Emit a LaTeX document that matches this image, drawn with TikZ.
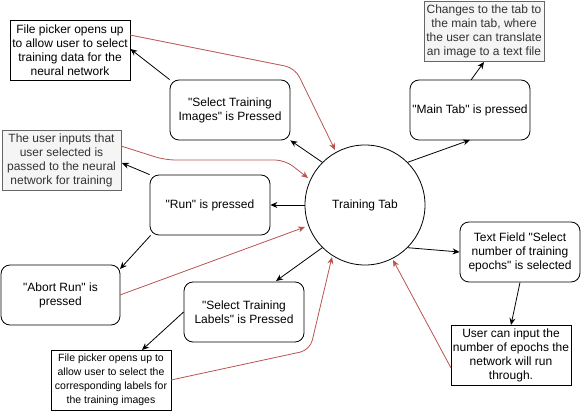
\documentclass[tikz,border=0pt]{standalone}
\usepackage{fontspec}
\setmainfont{Liberation Sans}
\usetikzlibrary{arrows.meta}
\definecolor{redline}{HTML}{B85450}
\definecolor{grayfill}{HTML}{F5F5F5}
\definecolor{grayline}{HTML}{666666}
\definecolor{graytext}{HTML}{333333}
\newcommand\qq{\textquotedbl}
\begin{document}
\begin{tikzpicture}[x=1pt,y=-1pt,
  every node/.style={font=\fontsize{12}{14}\selectfont, align=center, inner sep=0pt},
  rbox/.style={draw, rounded corners=9pt, line width=0.8pt, minimum width=120pt, minimum height=60pt, fill=white},
  wbox/.style={draw, line width=0.8pt, minimum width=120pt, minimum height=60pt, fill=white},
  gbox/.style={draw=grayline, fill=grayfill, text=graytext, line width=0.8pt, minimum width=120pt, minimum height=60pt},
  arr/.style={-{Stealth[length=7pt,width=6pt]}, line width=0.8pt},
  rarr/.style={-{Stealth[length=7pt,width=6pt]}, draw=redline, line width=0.8pt, rounded corners=10pt}
]
\useasboundingbox (0,0) rectangle (581,411);
\node[draw, circle, minimum size=120pt, line width=0.8pt] (tt) at (365,205) {Training Tab};
\node[wbox] (fp1) at (70,50) {File picker opens up\\to allow user to select\\training data for the\\neural network};
\node[rbox] (sti) at (230,110) {\qq Select Training\\Images\qq{} is Pressed};
\node[gbox, minimum width=119pt] (ui) at (61.5,160) {The user inputs that\\user selected is\\passed to the neural\\network for training};
\node[rbox] (run) at (210,205) {\qq Run\qq{} is pressed};
\node[rbox, minimum width=119pt] (abort) at (60.5,295) {\qq Abort Run\qq{} is\\pressed};
\node[rbox] (stl) at (244,312) {\qq Select Training\\Labels\qq{} is Pressed};
\node[wbox, font=\fontsize{10.5}{14}\selectfont] (fp2) at (111,380) {File picker opens up to\\allow user to select the\\corresponding labels for\\the training images};
\node[rbox] (mt) at (470,110) {\qq Main Tab\qq{} is pressed};
\node[gbox] (mtg) at (484,31) {Changes to the tab to\\the main tab, where\\the user can translate\\an image to a text file};
\node[rbox] (tf) at (520,252) {Text Field \qq Select\\number of training\\epochs\qq{} is selected};
\node[wbox] (uc) at (511,355) {User can input the\\number of epochs the\\network will run\\through.};
% black arrows
\draw[arr] (tt.135) -- (sti.south east);
\draw[arr] (sti.north west) -- ([yshift=1pt]fp1.east);
\draw[arr] (tt.west) -- (run.east);
\draw[arr] ([xshift=1pt]run.south west) -- (120,269);
\draw[arr] (run.north west) -- (122,163);
\draw[arr] (tt.225) -- (276,281);
\draw[arr] (stl.west) -- (142,350);
\draw[arr] (tt.45) -- (470,140);
\draw[arr] (471,80) -- (484,62);
\draw[arr] (tt.-45) -- (tf.west);
\draw[arr] (tf.south) -- (511,325);
% red arrows
\draw[rarr] (130,35) -- (295,68) -- (335,150);
\draw[rarr] (121,146) -- (165,160) -- (285,160) -- (308,178);
\draw[rarr] (120,295) -- (305,227);
\draw[rarr] (171,380) -- (310,350) -- (332,257);
\draw[rarr] (451,368) -- (393,260);
\end{tikzpicture}
\end{document}
